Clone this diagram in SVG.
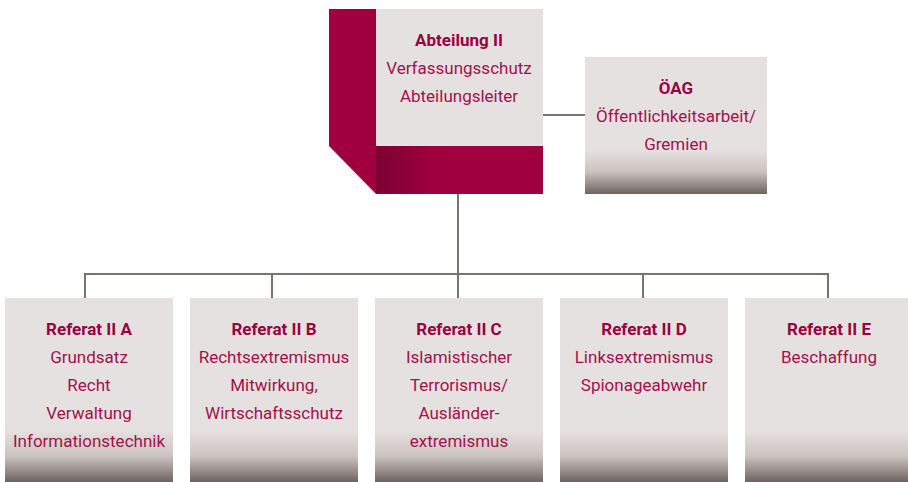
<svg xmlns="http://www.w3.org/2000/svg" width="908" height="482" viewBox="0 0 908 482">
<style>
.t{font-family:Roboto,"Liberation Sans",sans-serif;font-size:17px;fill:#a3104c;text-anchor:middle}
.b{font-weight:bold;fill:#9a0040}
.ln{stroke:#7d736e;stroke-width:2;fill:none}
</style>
<defs>
<linearGradient id="gb" x1="0" y1="0" x2="0" y2="1">
<stop offset="0" stop-color="#e5e1e0"/>
<stop offset="0.68" stop-color="#e5e1e0"/>
<stop offset="0.84" stop-color="#c9c1be"/>
<stop offset="1" stop-color="#6f635e"/>
</linearGradient>
<linearGradient id="gs" x1="0" y1="298" x2="0" y2="482" gradientUnits="userSpaceOnUse">
<stop offset="0" stop-color="#e5e1e0"/>
<stop offset="0.72" stop-color="#e5e1e0"/>
<stop offset="0.86" stop-color="#cbc3c0"/>
<stop offset="1" stop-color="#6f635e"/>
</linearGradient>
<linearGradient id="gm" x1="0" y1="0" x2="1" y2="0">
<stop offset="0" stop-color="#7c0033"/>
<stop offset="0.35" stop-color="#a0003f"/>
<stop offset="1" stop-color="#a0003f"/>
</linearGradient>
</defs>
<g id="connectors">
<line class="ln" x1="543" y1="115" x2="585" y2="115"/>
<line class="ln" x1="458" y1="194" x2="458" y2="298"/>
<line class="ln" x1="84" y1="274" x2="829" y2="274"/>
<line class="ln" x1="85" y1="274" x2="85" y2="298"/>
<line class="ln" x1="272" y1="274" x2="272" y2="298"/>
<line class="ln" x1="643" y1="274" x2="643" y2="298"/>
<line class="ln" x1="828" y1="274" x2="828" y2="298"/>
</g>
<g id="abteilung">
<polygon points="329,9 376,9 376,194 329,146" fill="#a0003f"/>
<rect x="376" y="9" width="167" height="137" fill="#e5e1e0"/>
<rect x="376" y="146" width="167" height="48" fill="url(#gm)"/>
<text class="t b" x="459" y="46">Abteilung II</text>
<text class="t" x="459" y="74">Verfassungsschutz</text>
<text class="t" x="459" y="102">Abteilungsleiter</text>
</g>
<g id="oeag">
<rect x="585" y="57" width="182" height="137" fill="url(#gb)"/>
<text class="t b" x="676" y="94">ÖAG</text>
<text class="t" x="676" y="122">Öffentlichkeitsarbeit/</text>
<text class="t" x="676" y="150">Gremien</text>
</g>
<g id="refA">
<rect x="5" y="298" width="168" height="184" fill="url(#gs)"/>
<text class="t b" x="89" y="335">Referat II A</text>
<text class="t" x="89" y="363">Grundsatz</text>
<text class="t" x="89" y="391">Recht</text>
<text class="t" x="89" y="419">Verwaltung</text>
<text class="t" x="89" y="447">Informationstechnik</text>
</g>
<g id="refB">
<rect x="190" y="298" width="168" height="184" fill="url(#gs)"/>
<text class="t b" x="274" y="335">Referat II B</text>
<text class="t" x="274" y="363">Rechtsextremismus</text>
<text class="t" x="274" y="391">Mitwirkung,</text>
<text class="t" x="274" y="419">Wirtschaftsschutz</text>
</g>
<g id="refC">
<rect x="375" y="298" width="168" height="184" fill="url(#gs)"/>
<text class="t b" x="459" y="335">Referat II C</text>
<text class="t" x="459" y="363">Islamistischer</text>
<text class="t" x="459" y="391">Terrorismus/</text>
<text class="t" x="459" y="419">Ausländer-</text>
<text class="t" x="459" y="447">extremismus</text>
</g>
<g id="refD">
<rect x="560" y="298" width="168" height="184" fill="url(#gs)"/>
<text class="t b" x="644" y="335">Referat II D</text>
<text class="t" x="644" y="363">Linksextremismus</text>
<text class="t" x="644" y="391">Spionageabwehr</text>
</g>
<g id="refE">
<rect x="745" y="298" width="168" height="184" fill="url(#gs)"/>
<text class="t b" x="829" y="335">Referat II E</text>
<text class="t" x="829" y="363">Beschaffung</text>
</g>
</svg>
